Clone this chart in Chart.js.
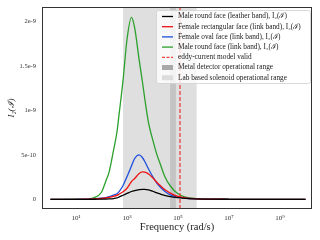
<!DOCTYPE html>
<html>
<head>
<meta charset="utf-8">
<script src="https://cdn.jsdelivr.net/npm/chart.js@4"></script>
<style>
  html, body { margin: 0; padding: 0; background: #fff; }
  #wrap { width: 320px; height: 240px; }
</style>
</head>
<body>
<div id="wrap"><canvas id="chart" width="320" height="240"></canvas></div>
<script>
// ==========================================
// DATA (values in units of 1e-10)
// ==========================================
const freqs = [1, 10, 30, 50, 100, 150, 200, 300, 400, 500, 700, 1000, 1500, 2000, 3000, 4000, 5000, 7000,
    10000, 15000, 20000, 30000, 50000, 1e5, 2e5, 5e5, 1e6, 1e7, 1e8, 1e9, 1e10];

const maleLeather = [0, 0, 0, 0.01, 0.02, 0.03, 0.05, 0.09, 0.15, 0.27, 0.46, 0.66, 0.88, 0.98, 1.08, 1.12, 1.12, 1.06,
    0.92, 0.72, 0.6, 0.45, 0.31, 0.19, 0.1, 0.05, 0.03, 0.005, 0, 0, 0];
const femaleRect = [0, 0.005, 0.02, 0.04, 0.09, 0.15, 0.22, 0.34, 0.45, 0.6, 0.85, 1.25, 2.0, 2.35, 2.9, 3.08, 3.07, 2.85,
    2.45, 1.9, 1.55, 1.1, 0.7, 0.32, 0.15, 0.06, 0.03, 0.005, 0, 0, 0];
const femaleOval = [0, 0.005, 0.02, 0.05, 0.12, 0.2, 0.3, 0.48, 0.62, 0.9, 1.55, 2.55, 3.75, 4.6, 5.0, 4.71, 4.26, 3.41,
    2.6, 1.8, 1.38, 0.92, 0.5, 0.27, 0.12, 0.05, 0.03, 0.005, 0, 0, 0];
const maleLink = [0, 0.01, 0.06, 0.18, 0.8, 2.1, 3.1, 5.6, 7.5, 9.8, 13.4, 18.0, 20.5, 19.3, 15.7, 13.3, 11.3, 8.6,
    6.8, 5.0, 4.0, 2.6, 1.5, 0.62, 0.25, 0.08, 0.03, 0, 0, 0, 0];

const seriesNames = [
    'Male round face (leather band), I\u2082(\u2110)',
    'Female rectangular face (link band), I\u2082(\u2110)',
    'Female oval face (link band), I\u2082(\u2110)',
    'Male round face (link band), I\u2082(\u2110)'
];
const seriesColors = ['#000000', '#ee1111', '#1f4fdd', '#2ca02c'];

const xTicks = [10, 1000, 1e5, 1e7, 1e9];
const xTickLabels = ['10\u00b9', '10\u00b3', '10\u2075', '10\u2077', '10\u2079'];
const yTicks = [0, 5, 10, 15, 20];
const yTickLabels = ['0', '5e-10', '1e-9', '1.5e-9', '2e-9'];

const labRange = [700, 540000];
const detectorRange = [49000, 83000];
const eddyLimit = 120000;

const SERIF = '"Liberation Serif", "DejaVu Serif", serif';

// ==========================================
// PLUGINS (bands, frame, legend)
// ==========================================
const bandsPlugin = {
    id: 'bands',
    beforeDatasetsDraw(chart) {
        const { ctx, chartArea: a, scales: { x } } = chart;
        ctx.save();
        ctx.fillStyle = '#dfdfdf';
        const l0 = x.getPixelForValue(labRange[0]), l1 = x.getPixelForValue(labRange[1]);
        ctx.fillRect(l0, a.top, l1 - l0, a.bottom - a.top);
        ctx.fillStyle = '#c4c4c4';
        const d0 = x.getPixelForValue(detectorRange[0]), d1 = x.getPixelForValue(detectorRange[1]);
        ctx.fillRect(d0, a.top, d1 - d0, a.bottom - a.top);
        ctx.restore();
    },
    afterDatasetsDraw(chart) {
        const { ctx, chartArea: a, scales: { x } } = chart;
        const ex = x.getPixelForValue(eddyLimit);
        ctx.save();
        ctx.strokeStyle = 'rgba(240,40,40,0.85)';
        ctx.lineWidth = 1.3;
        ctx.setLineDash([4, 2]);
        ctx.beginPath();
        ctx.moveTo(ex, a.top);
        ctx.lineTo(ex, a.bottom);
        ctx.stroke();
        ctx.restore();
    }
};

const framePlugin = {
    id: 'frame',
    afterDraw(chart) {
        const { ctx, chartArea: a } = chart;
        ctx.save();
        ctx.strokeStyle = '#333';
        ctx.lineWidth = 1;
        ctx.strokeRect(Math.round(a.left) + 0.5, Math.round(a.top) + 0.5,
            Math.round(a.right - a.left) - 1, Math.round(a.bottom - a.top) - 1);

        // legend
        const bx = 156, by = 10, bw = 154, bh = 73;
        ctx.fillStyle = 'rgba(255,255,255,0.8)';
        ctx.strokeStyle = '#d0d0d0';
        ctx.lineWidth = 0.8;
        ctx.beginPath();
        ctx.roundRect(bx + 0.5, by + 0.5, bw, bh, 2);
        ctx.fill();
        ctx.stroke();

        const rows = seriesNames.map((n, i) => ({ text: n, kind: 'line', color: seriesColors[i] }));
        rows.push({ text: 'eddy-current model valid', kind: 'dash', color: 'rgba(240,40,40,0.85)' });
        rows.push({ text: 'Metal detector operational range', kind: 'box', color: '#a9a9a9' });
        rows.push({ text: 'Lab based solenoid operational range', kind: 'box', color: '#dcdcdc' });

        ctx.font = '7.3px ' + SERIF;
        ctx.textBaseline = 'middle';
        rows.forEach((r, i) => {
            const y = 16.5 + i * 10.2;
            if (r.kind === 'box') {
                ctx.fillStyle = r.color;
                ctx.fillRect(162, y - 2.5, 11, 5);
            } else {
                ctx.strokeStyle = r.color;
                ctx.lineWidth = 1.3;
                ctx.setLineDash(r.kind === 'dash' ? [3, 1.5] : []);
                ctx.beginPath();
                ctx.moveTo(162, y);
                ctx.lineTo(173, y);
                ctx.stroke();
                ctx.setLineDash([]);
            }
            ctx.fillStyle = '#1a1a1a';
            ctx.fillText(r.text, 178, y);
        });
        ctx.restore();
    }
};

// ==========================================
// CHART
// ==========================================
const datasets = [maleLeather, femaleRect, femaleOval, maleLink].map((vals, i) => ({
    label: seriesNames[i],
    data: freqs.map((f, j) => ({ x: f, y: vals[j] })),
    borderColor: seriesColors[i],
    borderWidth: 1.3,
    pointRadius: 0,
    cubicInterpolationMode: 'monotone',
    fill: false
}));

new Chart(document.getElementById('chart'), {
    type: 'line',
    data: { datasets },
    options: {
        responsive: false,
        animation: false,
        devicePixelRatio: 1,
        layout: { padding: { top: 6, right: 8, left: 0, bottom: 0 } },
        plugins: { legend: { display: false }, tooltip: { enabled: false } },
        scales: {
            x: {
                type: 'logarithmic',
                min: Math.pow(10, -0.333),
                max: Math.pow(10, 10.255),
                afterBuildTicks: s => { s.ticks = xTicks.map(v => ({ value: v })); },
                afterFit: s => { s.height = 31; },
                grid: { display: false, drawTicks: true, tickLength: 3, tickColor: '#333' },
                border: { display: false },
                ticks: {
                    autoSkip: false, maxRotation: 0, padding: 2, color: '#333',
                    font: { family: SERIF, size: 7 },
                    callback: (v, i) => xTickLabels[i]
                },
                title: {
                    display: true, text: 'Frequency (rad/s)', color: '#222',
                    font: { family: SERIF, size: 10.5 }, padding: { top: 1, bottom: 6 }
                }
            },
            y: {
                type: 'linear',
                min: -1.09,
                max: 21.67,
                afterBuildTicks: s => { s.ticks = yTicks.map(v => ({ value: v })); },
                afterFit: s => { s.width = 42; },
                grid: { display: false, drawTicks: true, tickLength: 3, tickColor: '#333' },
                border: { display: false },
                ticks: {
                    autoSkip: false, padding: 3, color: '#333',
                    font: { family: SERIF, size: 6.5 },
                    callback: (v, i) => yTickLabels[i]
                },
                title: {
                    display: true, text: 'I\u2082(\u2110)', color: '#222',
                    font: { family: SERIF, size: 9, style: 'italic' }, padding: { top: 6, bottom: 2 }
                }
            }
        }
    },
    plugins: [bandsPlugin, framePlugin]
});
</script>
</body>
</html>
